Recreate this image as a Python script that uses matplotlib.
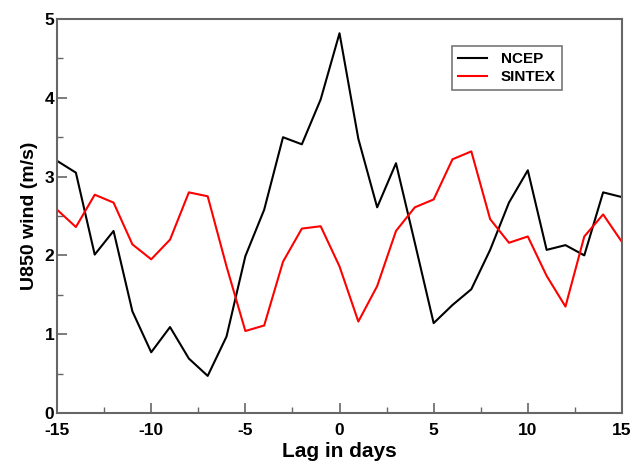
"""
U850 wind lag composite: NCEP vs SINTEX
"""

import numpy as np
import matplotlib.pyplot as plt
from matplotlib.ticker import MultipleLocator

plt.rcParams['font.family'] = ['Liberation Sans', 'DejaVu Sans']
plt.rcParams['font.weight'] = 'bold'
plt.rcParams['axes.unicode_minus'] = False

# DATA

lag = np.arange(-15, 16)
ncep = [3.20, 3.05, 2.01, 2.31, 1.29, 0.77, 1.09, 0.69, 0.47, 0.97,
        1.99, 2.58, 3.50, 3.41, 3.98, 4.82, 3.48, 2.61, 3.17, 2.16,
        1.14, 1.37, 1.57, 2.07, 2.67, 3.08, 2.07, 2.13, 2.00, 2.80, 2.74]
sintex = [2.58, 2.36, 2.77, 2.67, 2.14, 1.95, 2.20, 2.80, 2.75, 1.86,
          1.04, 1.11, 1.92, 2.34, 2.37, 1.86, 1.16, 1.61, 2.31, 2.61,
          2.71, 3.22, 3.32, 2.46, 2.16, 2.24, 1.74, 1.35, 2.24, 2.52, 2.17]

# PLOT

fig = plt.figure(figsize=(6.34, 4.65), dpi=100)
ax = fig.add_axes([0.090, 0.112, 0.891, 0.847])

ax.plot(lag, ncep, color='black', linewidth=1.5, label='NCEP')
ax.plot(lag, sintex, color='#ff0000', linewidth=1.5, label='SINTEX')

ax.set_xlim(-15, 15)
ax.set_ylim(0, 5)
ax.xaxis.set_major_locator(MultipleLocator(5))
ax.xaxis.set_minor_locator(MultipleLocator(2.5))
ax.yaxis.set_major_locator(MultipleLocator(1))
ax.yaxis.set_minor_locator(MultipleLocator(0.5))
ax.tick_params(which='major', direction='in', length=7.5, width=1.2,
               labelsize=12.5, color='#666666')
ax.tick_params(axis='x', which='major', pad=7)
ax.tick_params(axis='y', which='major', pad=2)
ax.tick_params(which='minor', direction='in', length=4, width=1.0, color='#666666')
for s in ax.spines.values():
    s.set_color('#666666')
    s.set_linewidth(1.5)

ax.set_xlabel('Lag in days', fontsize=15, fontweight='bold', labelpad=3)
ax.set_ylabel('U850 wind (m/s)', fontsize=14, fontweight='bold', labelpad=5)

leg = ax.legend(loc='upper left', bbox_to_anchor=(0.699, 0.931), borderaxespad=0,
                fontsize=11, fancybox=False, edgecolor='#555555', handlelength=1.9,
                handletextpad=0.9, borderpad=0.4, labelspacing=0.25)
leg.get_frame().set_linewidth(1.2)

plt.savefig('out.png', dpi=100)
